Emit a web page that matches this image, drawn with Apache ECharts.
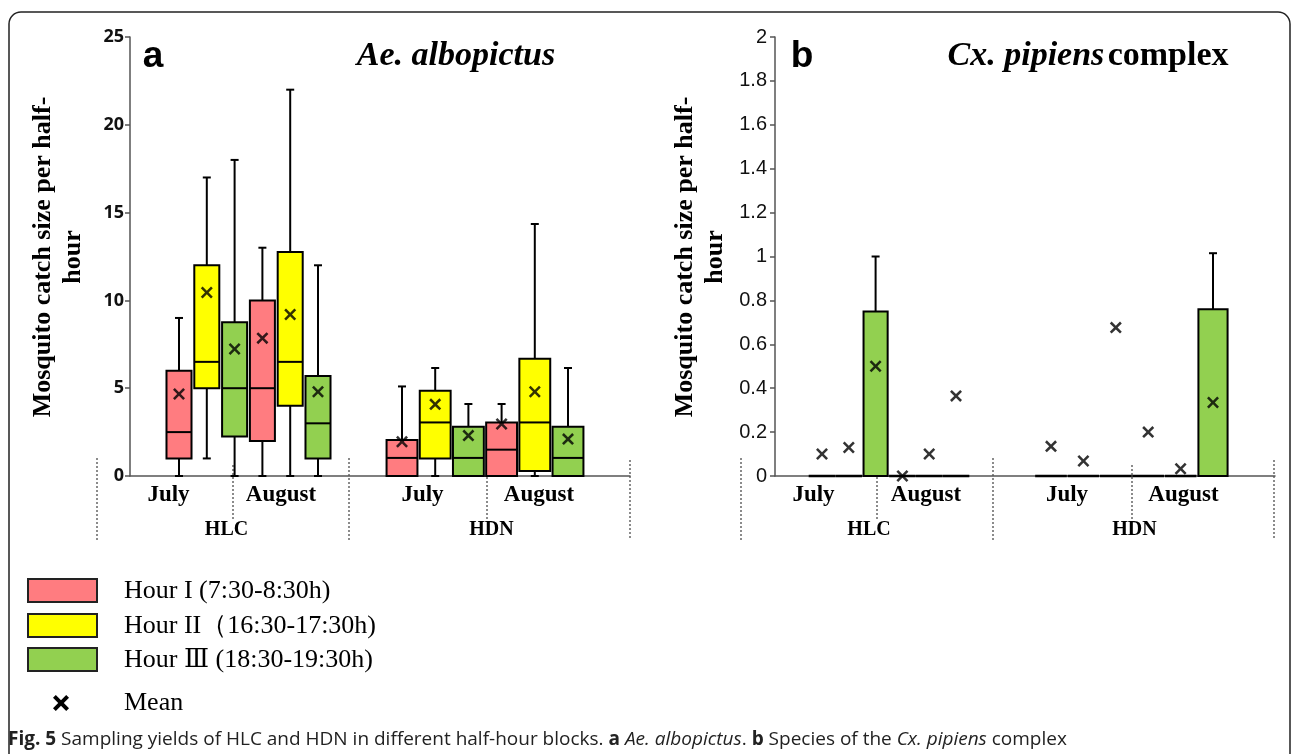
<!DOCTYPE html>
<html><head><meta charset="utf-8">
<script src="https://cdn.jsdelivr.net/npm/echarts@6/dist/echarts.min.js"></script>
<style>html,body{margin:0;padding:0;background:#fff;}#c{width:1292px;height:754px;}</style>
</head><body><div id="c"></div>
<script>
// ---------- data ----------
const categories = ['July I','July II','July III','August I','August II','August III'];
const monthLabels = ['July','August'];
const groupLabels = ['HLC','HDN'];
const legendLabels = ['Hour I (7:30-8:30h)','Hour II（16:30-17:30h)','Hour Ⅲ (18:30-19:30h)','Mean'];
const aeTicks = [0, 25, 5];      // min, max, interval
const cxTicks = [0, 2, 0.2];
// boxes: [min, Q1, median, Q3, max]
const aeHLC = [[0,1,2.5,6,9],[1,5,6.5,12,17],[0,2.25,5,8.75,18],[0,2,5,10,13],[0,4,6.5,12.75,22],[0,1,3,5.7,12]];
const aeHLCMean = [4.67,10.45,7.23,7.85,9.2,4.8];
const aeHDN = [[0,0,1.03,2.05,5.1],[0,1,3.05,4.86,6.15],[0,0,1.03,2.8,4.1],[0,0,1.5,3.05,4.1],[0,0.28,3.05,6.68,14.35],[0,0,1.03,2.8,6.15]];
const aeHDNMean = [1.95,4.08,2.3,2.96,4.8,2.1];
const cxHLC = [[0,0,0,0,0],[0,0,0,0,0],[0,0,0,0.75,1],[0,0,0,0,0],[0,0,0,0,0],[0,0,0,0,0]];
const cxHLCMean = [0.1,0.13,0.5,0,0.1,0.365];
const cxHDN = [[0,0,0,0,0],[0,0,0,0,0],[0,0,0,0,0],[0,0,0,0,0],[0,0,0,0,0],[0,0,0,0.76,1.015]];
const cxHDNMean = [0.135,0.068,0.676,0.2,0.033,0.335];

// ---------- styles / layout ----------
const hourColors = ['#FF7C80','#FFFF00','#92D050'];
const AXIS = '#555';
const TOP = 37, H = 439;
const SERIF = '"Liberation Serif","DejaVu Serif","Times New Roman",serif';
const SANS = '"Liberation Sans",Arial,sans-serif';
const crossPath = 'path://M0,3 L3,0 L10,7 L17,0 L20,3 L13,10 L20,17 L17,20 L10,13 L3,20 L0,17 L7,10 Z';

const grids = [
  {left:130, width:500},      // 0 base a
  {left:165.1, width:166.8},  // 1 a HLC
  {left:385.4, width:199.2},  // 2 a HDN
  {left:775, width:500},      // 3 base b
  {left:808.6, width:160.8},  // 4 b HLC
  {left:1034.8, width:194.4}  // 5 b HDN
].map(g => ({left:g.left, width:g.width, top:TOP, height:H}));

function yAx(grid, t, show, bold){
  return {gridIndex:grid, type:'value', min:t[0], max:t[1], interval:t[2], show:show,
    axisLine:{show:true, lineStyle:{color:AXIS, width:1.5}},
    axisTick:{show:true, length:5, lineStyle:{color:AXIS, width:1.5}},
    axisLabel:{color:'#111', fontFamily:bold ? '"Open Sans",sans-serif' : SANS, fontWeight:bold?'bold':'normal', fontSize:bold?18:20, margin:bold?6:8},
    splitLine:{show:false}};
}
const xAxes = [], yAxes = [];
[0,1,2,3,4,5].forEach(i => {
  if (i % 3 === 0) {
    xAxes.push({gridIndex:i, type:'value', min:0, max:1,
      axisLine:{show:true, onZero:false, lineStyle:{color:AXIS, width:1.5}},
      axisTick:{show:false}, axisLabel:{show:false}, splitLine:{show:false}});
  } else {
    xAxes.push({gridIndex:i, type:'category', data:categories, show:false});
  }
  const t = i < 3 ? aeTicks : cxTicks;
  yAxes.push(yAx(i, t, i % 3 === 0, i < 3));
});

function boxRenderer(ratio){
  return function(params, api){
    const x = api.value(0);
    const lo = api.coord([x, api.value(1)]);
    const q1 = api.coord([x, api.value(2)]);
    const md = api.coord([x, api.value(3)]);
    const q3 = api.coord([x, api.value(4)]);
    const hi = api.coord([x, api.value(5)]);
    const w = api.size([1,0])[0] * ratio;
    const cx = lo[0], cap = 4;
    const ls = {stroke:'#000', lineWidth:2};
    const children = [];
    if (hi[1] < q3[1]) {
      children.push({type:'line', shape:{x1:cx,y1:hi[1],x2:cx,y2:q3[1]}, style:ls});
      children.push({type:'line', shape:{x1:cx-cap,y1:hi[1],x2:cx+cap,y2:hi[1]}, style:ls});
    }
    if (lo[1] > q1[1]) {
      children.push({type:'line', shape:{x1:cx,y1:q1[1],x2:cx,y2:lo[1]}, style:ls});
      children.push({type:'line', shape:{x1:cx-cap,y1:lo[1],x2:cx+cap,y2:lo[1]}, style:ls});
    }
    children.push({type:'rect', shape:{x:cx-w/2, y:q3[1], width:w, height:Math.max(q1[1]-q3[1],0.01)},
      style:{fill:hourColors[x % 3], stroke:'#000', lineWidth:q1[1]-q3[1] < 1 ? 2.5 : 2}});
    children.push({type:'line', shape:{x1:cx-w/2,y1:md[1],x2:cx+w/2,y2:md[1]}, style:ls});
    return {type:'group', children};
  };
}

const groups = [
  {grid:1, boxes:aeHLC, means:aeHLCMean, ratio:0.9},
  {grid:2, boxes:aeHDN, means:aeHDNMean, ratio:0.93},
  {grid:4, boxes:cxHLC, means:cxHLCMean, ratio:0.9},
  {grid:5, boxes:cxHDN, means:cxHDNMean, ratio:0.9}
];
const series = [];
groups.forEach(g => {
  series.push({type:'custom', xAxisIndex:g.grid, yAxisIndex:g.grid, z:3,
    renderItem:boxRenderer(g.ratio), encode:{x:0, y:[1,2,3,4,5]},
    data:g.boxes.map((b,i) => [i].concat(b))});
  series.push({type:'scatter', xAxisIndex:g.grid, yAxisIndex:g.grid, z:5,
    symbol:crossPath, symbolSize:12, itemStyle:{color:'#000'}, silent:true,
    data:g.means.map((m,i) => [i, m])});
});

// ---------- text & decorations ----------
const graphic = [];
graphic.push({type:'rect', shape:{x:9, y:12, width:1281, height:800, r:12}, style:{fill:'none', stroke:'#222', lineWidth:1.5}, z:0});
function txt(x, y, text, font, extra){
  graphic.push({type:'text', x:x, y:y, style:Object.assign({text:text, font:font, fill:'#000', textAlign:'center', textVerticalAlign:'middle'}, extra||{})});
}
// panel letters & titles
txt(153, 57, 'a', 'bold 37px ' + SANS);
txt(802, 57, 'b', 'bold 37px ' + SANS);
txt(456, 56, 'Ae. albopictus', 'italic bold 34px ' + SERIF);
graphic.push({type:'text', x:1088, y:56, style:{text:'{i|Cx. pipiens} {b|complex}', textAlign:'center', textVerticalAlign:'middle', fill:'#000',
  rich:{i:{font:'italic bold 34px ' + SERIF, fill:'#000'}, b:{font:'bold 34px ' + SERIF, fill:'#000'}}}});
// y axis names
const yName = 'Mosquito catch size per half-\nhour';
[[58,257],[700,257]].forEach(p => {
  graphic.push({type:'text', x:p[0], y:p[1], rotation:Math.PI/2,
    style:{text:yName, font:'bold 26px ' + SERIF, fill:'#000', textAlign:'center', textVerticalAlign:'middle', lineHeight:30}});
});
// month labels
[[168.5,281],[422.5,539],[813.5,926],[1067,1183.5]].forEach(p => {
  txt(p[0], 495, monthLabels[0], 'bold 23px ' + SERIF);
  txt(p[1], 495, monthLabels[1], 'bold 23px ' + SERIF);
});
// group labels
[[226.5,0],[491.5,1],[869,0],[1134.5,1]].forEach(p => txt(p[0], 530, groupLabels[p[1]], 'bold 20px ' + SERIF));
// dotted separators
const dot = {stroke:'#666', lineWidth:1.5, lineDash:[2,2]};
[[97,458,540],[233,465,520],[349,458,540],[487,465,520],[630,460,540],
 [741,458,540],[877,465,520],[993,458,540],[1132,465,520],[1274,460,540]].forEach(l => {
  graphic.push({type:'line', shape:{x1:l[0], y1:l[1], x2:l[0], y2:l[2]}, style:dot});
});
// legend
[579, 614, 648].forEach((y, i) => {
  graphic.push({type:'rect', shape:{x:28, y:y, width:69, height:23}, style:{fill:hourColors[i], stroke:'#222', lineWidth:2}});
  txt(124, y + 12, legendLabels[i], '26px ' + SERIF, {textAlign:'left'});
});
// mean legend marker (bold X)
const mx = 61, my = 703, a = 8, t = 2.8;
graphic.push({type:'polygon', shape:{points:[
  [mx-a, my-a+t],[mx-a+t, my-a],[mx, my-t],[mx+a-t, my-a],[mx+a, my-a+t],[mx+t, my],
  [mx+a, my+a-t],[mx+a-t, my+a],[mx, my+t],[mx-a+t, my+a],[mx-a, my+a-t],[mx-t, my]]}, style:{fill:'#000'}});
txt(124, 703, legendLabels[3], '26px ' + SERIF, {textAlign:'left'});
// caption
graphic.push({type:'text', x:8, y:740, style:{
  text:'{b|Fig. 5} Sampling yields of HLC and HDN in different half-hour blocks. {b|a} {i|Ae. albopictus}. {b|b} Species of the {i|Cx. pipiens} complex',
  font:'19px "Open Sans",sans-serif', fill:'#222', textAlign:'left', textVerticalAlign:'middle',
  rich:{b:{font:'bold 19px "Open Sans",sans-serif', fill:'#222'}, i:{font:'italic 19px "Open Sans",sans-serif', fill:'#222'}}}});

const chart = echarts.init(document.getElementById('c'), null, {renderer:'canvas'});
chart.setOption({animation:false, backgroundColor:'#fff', grid:grids, xAxis:xAxes, yAxis:yAxes, series:series, graphic:graphic});
</script></body></html>
